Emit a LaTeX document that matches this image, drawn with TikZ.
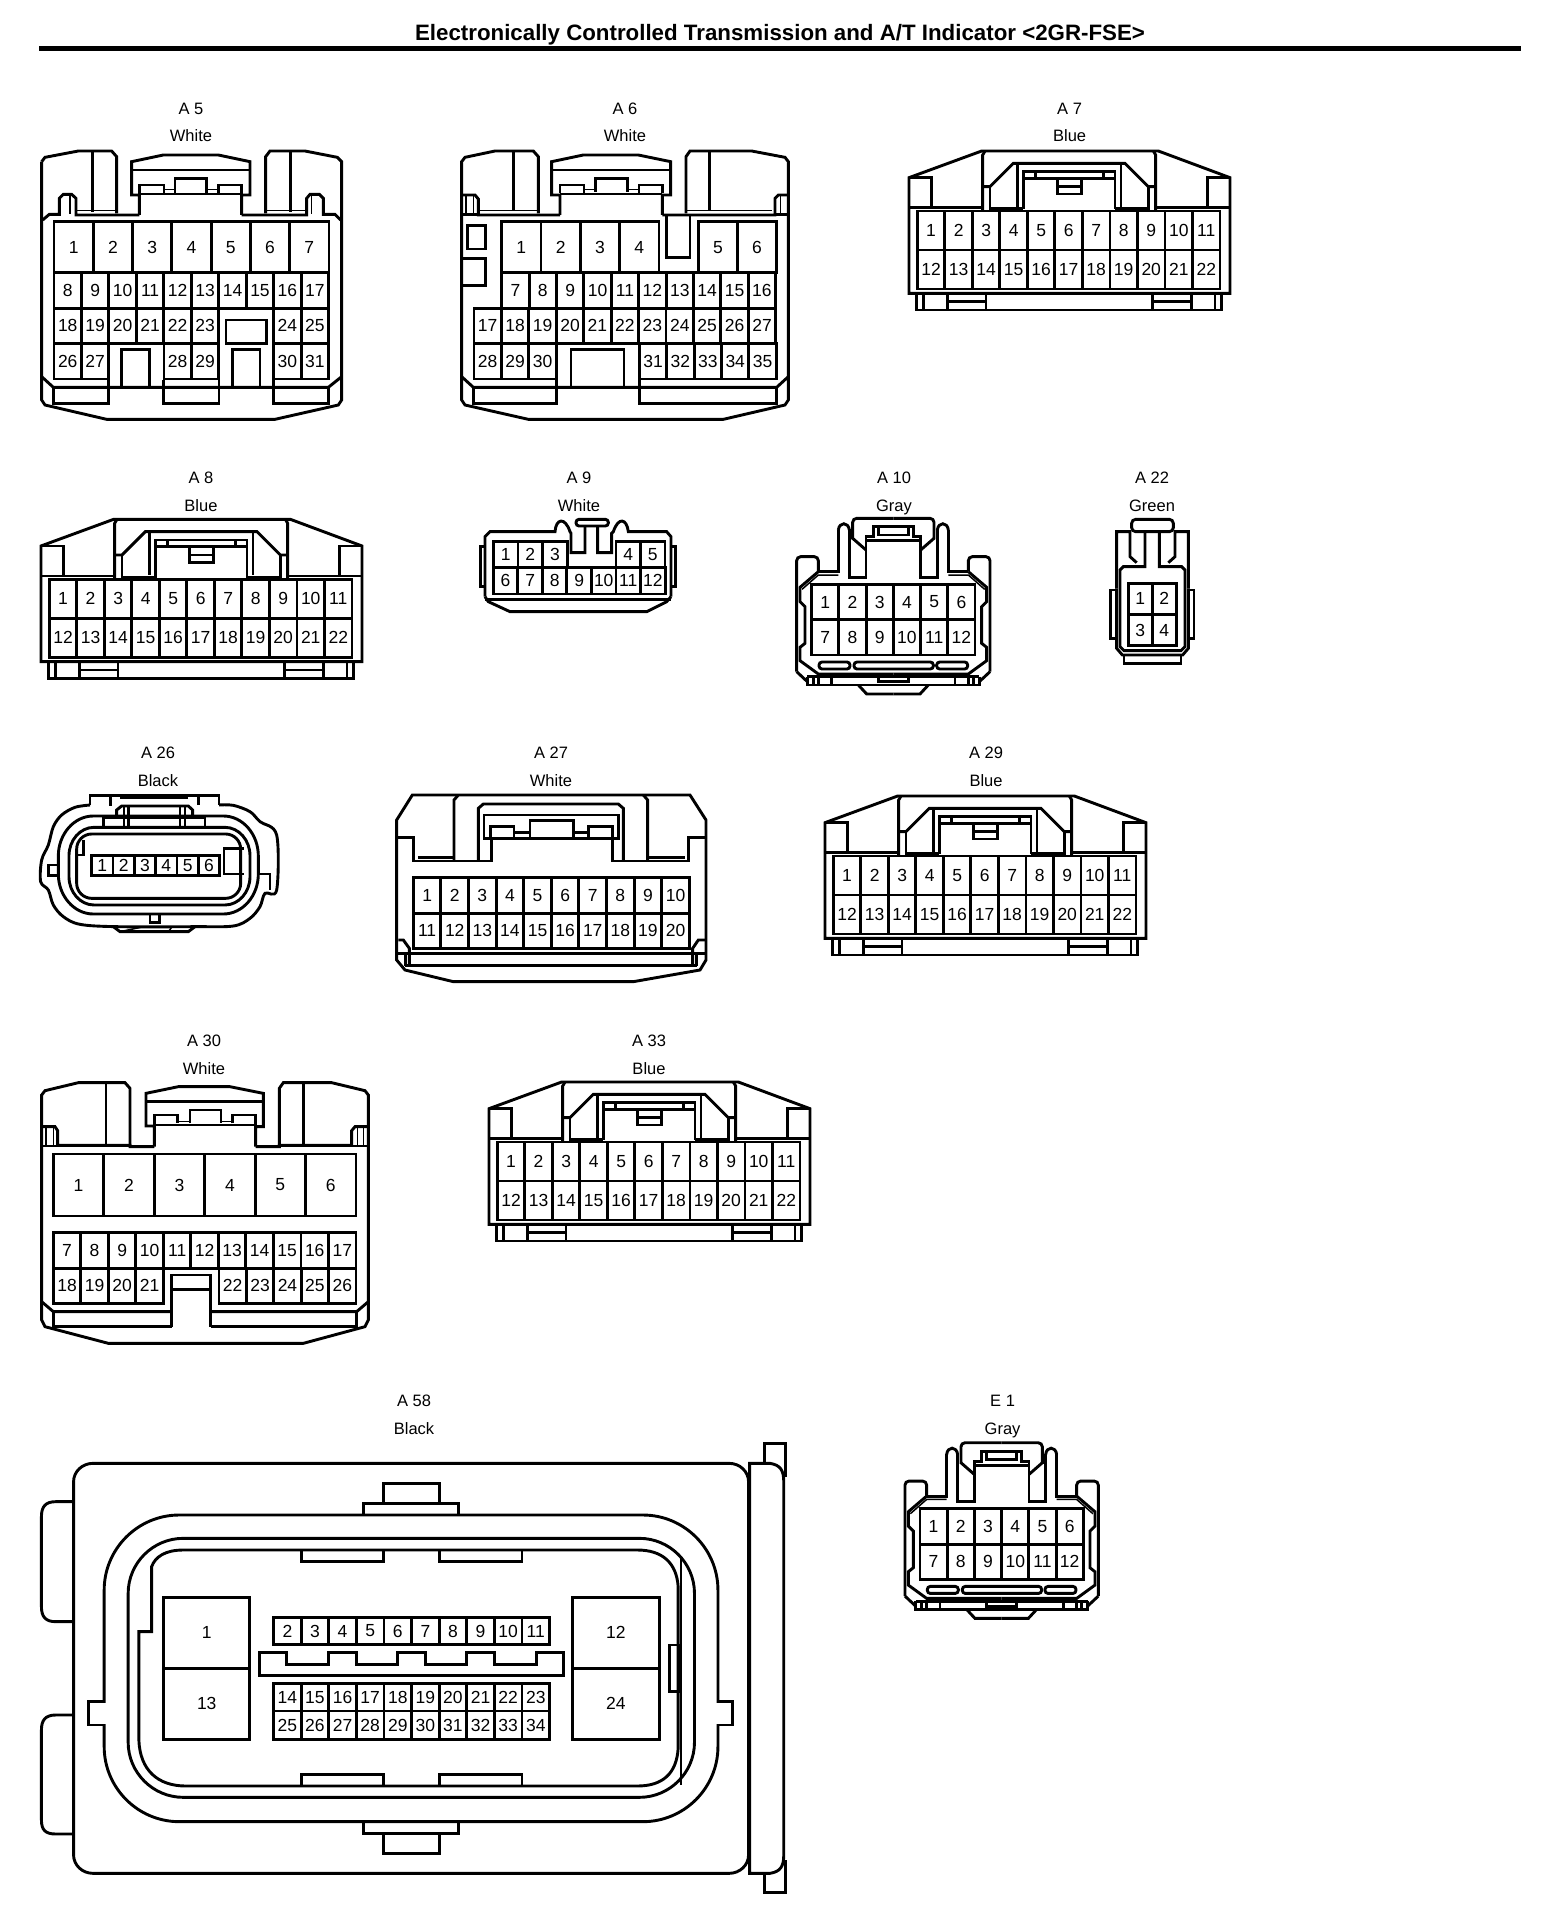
\documentclass[tikz,border=0pt]{standalone}
\usepackage{fontspec}
\setmainfont{Liberation Sans}
\tikzset{
  wire/.style={draw=black,line width=2.9pt,line join=miter},
  thinw/.style={draw=black,line width=1.5pt},
  pinlabel/.style={inner sep=0pt,font=\fontsize{17.5}{18}\selectfont,anchor=center},
  clab/.style={inner sep=0pt,font=\fontsize{16.5}{18}\selectfont,anchor=base},
  zm/.style n args={2}{xshift=#1pt,yshift=-#2pt,x=0.33333pt,y=-0.33333pt},
  zmw/.style n args={2}{xshift=#1pt,yshift=-#2pt,x=0.5102pt,y=-0.33333pt},
  soft/.style={rounded corners=4pt}
}
\newcommand\prow[5]{\foreach \lab [count=\ii from 0] in {#5} {%
  \pgfmathsetmacro\xa{#1+\ii*#2}\pgfmathsetmacro\xb{#1+(\ii+1)*#2}%
  \draw[wire] (\xa,#3) rectangle (\xb,#4);
  \node[pinlabel] (\cn-\lab) at ({(\xa+\xb)/2},{(#3+#4)/2}) {\lab};}}
\newcommand\clabel[5]{%
  \node[clab] (#1-id) at (#4pt,-#5pt-12pt) {#2};
  \node[clab] (#1-colour) at (#4pt,-#5pt-40pt) {#3};}
\newcommand\ringpath[7][wire]{%
 \draw[#1] ({#2+#6},#3) -- ({#4-#6},#3) .. controls ({#4-.45*#6},#3) and (#4,{#3+.45*#7}) .. (#4,{#3+#7})
  -- (#4,{#5-#7}) .. controls (#4,{#5-.45*#7}) and ({#4-.45*#6},#5) .. ({#4-#6},#5)
  -- ({#2+#6},#5) .. controls ({#2+.45*#6},#5) and (#2,{#5-.45*#7}) .. (#2,{#5-#7})
  -- (#2,{#3+#7}) .. controls (#2,{#3+.45*#7}) and ({#2+.45*#6},#3) .. ({#2+#6},#3) -- cycle;}
% ---- blue 22-pin connector (A7, A8, A29, A33)
\newcommand\connBlue[3]{\def\cn{#1}\begin{scope}[zm={#2}{#3}]
  \draw[wire] (57,490) -- (57,143) -- (275,63) -- (805,63) -- (1020,143) -- (1020,490) -- cycle;
  \draw[wire] (57,143) -- (125,143) -- (125,233);
  \draw[wire] (1020,143) -- (952,143) -- (952,233);
  \draw[wire] (57,233) -- (278,233);
  \draw[wire] (797,233) -- (1020,233);
  \draw[wire] (285,63) -- (278,75) -- (278,240);
  \draw[wire] (790,63) -- (797,75) -- (797,240);
  \draw[wire] (278,170) -- (300,170) -- (370,100) -- (705,100) -- (775,170) -- (797,170);
  \draw[wire] (300,170) -- (300,236) -- (400,236);
  \draw[wire] (775,170) -- (775,236) -- (675,236);
  \draw[wire] (382,100) -- (382,230);
  \draw[wire] (693,100) -- (693,230);
  \draw[wire] (400,238) -- (400,125) -- (675,125) -- (675,238);
  \draw[wire] (400,145) -- (675,145);
  \draw[wire] (437,125) -- (437,145);
  \draw[wire] (640,125) -- (640,145);
  \draw[wire] (503,145) -- (503,192) -- (575,192) -- (575,145);
  \draw[wire] (503,170) -- (575,170);
  \draw[wire] (80,490) -- (80,540) -- (995,540) -- (995,490);
  \draw[wire] (100,490) -- (100,540);
  \draw[wire] (975,490) -- (975,540);
  \draw[wire] (172,490) -- (172,540);
  \draw[wire] (288,490) -- (288,540);
  \draw[wire] (172,515) -- (288,515);
  \draw[wire] (788,490) -- (788,540);
  \draw[wire] (905,490) -- (905,540);
  \draw[wire] (788,515) -- (905,515);
  \prow{82}{82.55}{243}{360}{1,2,3,4,5,6,7,8,9,10,11}
  \prow{82}{82.55}{360}{477}{12,13,14,15,16,17,18,19,20,21,22}
\end{scope}}
% ---- half shell of the 12-pin connectors (A10, E1)
\newcommand\halfShell{%
  \draw[wire,soft] (218,118) -- (218,55) -- (340,55);
  \draw[wire] (218,115) -- (258,150);
  \draw[wire] (340,80) -- (280,80) -- (280,110) -- (258,110) -- (258,232) -- (208,232) -- (208,88);
  \draw[wire] (208,90) .. controls (205,65) and (178,65) .. (175,90);
  \draw[wire] (175,90) -- (175,215) -- (115,215);
  \draw[wire,soft] (115,215) -- (115,170) -- (50,170) -- (50,515);
  \draw[wire] (50,515) -- (82,545);
  \draw[thinw] (175,225) -- (115,225) -- (66,268);
  \draw[wire] (115,215) -- (60,262) -- (60,305) -- (75,320) -- (75,430) -- (60,442) -- (60,482) -- (115,522) -- (340,522);
  \draw[wire] (258,122) -- (340,122);
  \draw[wire] (295,84) -- (295,105) -- (340,105);
  \draw[wire] (82,530) -- (340,530);
  \draw[wire] (82,530) -- (82,555) -- (340,555);
  \draw[wire] (100,535) -- (100,555);
  \draw[wire] (115,535) -- (115,555);
  \draw[wire] (155,530) -- (155,555);
  \draw[wire] (295,532) -- (295,545) -- (340,545);
  \draw[wire] (235,555) -- (260,582) -- (340,582);
  \draw[wire,rounded corners=3pt] (117,486) rectangle (210,507);
}
\newcommand\connTwelve[3]{\def\cn{#1}\begin{scope}[zm={#2}{#3}]
  \halfShell
  \begin{scope}[xshift=226.667pt,xscale=-1]\halfShell\end{scope}
  \draw[wire,rounded corners=3pt] (222,486) rectangle (460,507);
  \prow{95}{81.67}{253}{359}{1,2,3,4,5,6}
  \prow{95}{81.67}{359}{465}{7,8,9,10,11,12}
\end{scope}}
\begin{document}
\begin{tikzpicture}[x=1pt,y=1pt]
\path[fill=white,use as bounding box] (0,0) rectangle (1568,-1908);
\node[inner sep=0pt,anchor=base,font=\bfseries\fontsize{22.3}{24}\selectfont] (title) at (780,-41) {Electronically Controlled Transmission and A/T Indicator <2GR-FSE>};
\coordinate (ruleL) at (39,-48.6);
\coordinate (ruleR) at (1521,-48.6);
\draw[line width=4.4pt] (ruleL) -- (ruleR);
\clabel{A5}{A 5}{White}{191}{102}
\clabel{A6}{A 6}{White}{625}{102}
\clabel{A7}{A 7}{Blue}{1069.6}{102}
\clabel{A8}{A 8}{Blue}{201}{471}
\clabel{A9}{A 9}{White}{579}{471}
\clabel{A10}{A 10}{Gray}{894}{471}
\clabel{A22}{A 22}{Green}{1152}{471}
\clabel{A26}{A 26}{Black}{158}{746}
\clabel{A27}{A 27}{White}{551}{746}
\clabel{A29}{A 29}{Blue}{986}{746}
\clabel{A30}{A 30}{White}{204}{1034}
\clabel{A33}{A 33}{Blue}{649}{1034}
\clabel{A58}{A 58}{Black}{414}{1394.5}
\clabel{E1}{E 1}{Gray}{1002.6}{1394.5}
% ---------- A5
\def\cn{A5}
\begin{scope}[zm={0}{80}]
  \draw[wire] (125,245) -- (135,232) -- (235,213) -- (335,213) -- (350,230) -- (350,400);
  \draw[wire] (278,213) -- (278,395);
  \draw[wire] (125,245) -- (125,960) -- (135,975) -- (320,1018) -- (825,1018) -- (1015,975) -- (1025,960) -- (1025,245) -- (1012,232) -- (915,213) -- (810,213) -- (797,230) -- (797,400);
  \draw[wire] (872,213) -- (872,395);
  \draw[wire] (418,405) -- (418,345) -- (395,345) -- (395,245) -- (490,225) -- (655,225) -- (750,245) -- (750,345) -- (725,345) -- (725,405);
  \draw[wire] (397,270) -- (750,270);
  \draw[wire] (418,345) -- (418,315) -- (492,315) -- (492,340);
  \draw[wire] (525,340) -- (525,295) -- (620,295) -- (620,340);
  \draw[wire] (655,340) -- (655,315) -- (725,315) -- (725,345);
  \draw[wire] (418,342) -- (725,342);
  \draw[thinw] (492,328) -- (525,328);
  \draw[thinw] (620,328) -- (655,328);
  \draw[wire] (128,420) -- (148,403) -- (178,403) -- (178,355) -- (190,343) -- (215,343) -- (228,355) -- (228,405) -- (418,405);
  \draw[thinw] (210,345) -- (210,403);
  \draw[thinw] (228,392) -- (350,392);
  \draw[wire] (725,405) -- (920,405) -- (920,355) -- (930,343) -- (958,343) -- (970,355) -- (970,403) -- (1005,403) -- (1022,420);
  \draw[thinw] (935,345) -- (935,403);
  \draw[thinw] (797,392) -- (920,392);
  \draw[wire] (125,890) -- (160,922) -- (985,922) -- (1025,890);
  \draw[wire] (160,922) -- (160,970) -- (325,970) -- (325,900);
  \draw[wire] (490,900) -- (490,970) -- (657,970) -- (657,900);
  \draw[wire] (820,900) -- (820,970) -- (985,970) -- (985,922);
  \prow{162}{117.86}{425}{578}{1,2,3,4,5,6,7}
  \prow{162}{82.4}{578}{685}{8,9,10,11,12,13,14,15,16,17}
  \prow{162}{82.4}{685}{790}{18,19,20,21,22,23}
  \prow{821}{82.4}{685}{790}{24,25}
  \prow{162}{82.4}{790}{897}{26,27}
  \prow{492}{82.4}{790}{897}{28,29}
  \prow{821}{82.4}{790}{897}{30,31}
  \draw[wire] (678,720) rectangle (800,790);
  \draw[wire] (365,922) -- (365,808) -- (448,808) -- (448,922);
  \draw[wire] (698,922) -- (698,808) -- (780,808) -- (780,922);
\end{scope}
% ---------- A6
\def\cn{A6}
\begin{scope}[zm={440}{80}]
  \draw[wire] (295,400) -- (295,230) -- (280,213) -- (165,213) -- (75,232) -- (65,245) -- (65,960) -- (75,975) -- (265,1018) -- (850,1018) -- (1035,975) -- (1045,960) -- (1045,245) -- (1035,232) -- (935,213) -- (750,213) -- (738,230) -- (738,400);
  \draw[wire] (220,213) -- (220,392);
  \draw[wire] (808,213) -- (808,392);
  \draw[wire] (360,405) -- (360,345) -- (335,345) -- (335,245) -- (430,225) -- (595,225) -- (692,245) -- (692,345) -- (667,345) -- (667,405);
  \draw[wire] (337,270) -- (692,270);
  \draw[wire] (360,340) -- (360,315) -- (432,315) -- (432,340);
  \draw[wire] (467,335) -- (467,295) -- (563,295) -- (563,335);
  \draw[wire] (597,340) -- (597,315) -- (667,315) -- (667,340);
  \draw[wire] (360,342) -- (667,342);
  \draw[thinw] (432,328) -- (467,328);
  \draw[thinw] (563,328) -- (597,328);
  \draw[wire] (65,345) -- (105,345) -- (115,357) -- (115,405) -- (360,405);
  \draw[thinw] (78,345) -- (78,403);
  \draw[thinw] (100,345) -- (100,403);
  \draw[wire] (65,403) -- (115,403);
  \draw[thinw] (115,392) -- (295,392);
  \draw[thinw] (738,392) -- (995,392);
  \draw[wire] (667,405) -- (1005,405) -- (1005,355) -- (1015,345) -- (1045,345);
  \draw[thinw] (1022,345) -- (1022,403);
  \draw[wire] (1005,403) -- (1045,403);
  \draw[wire] (680,405) -- (680,532) -- (750,532) -- (750,405);
  \draw[wire] (82,437) rectangle (137,507);
  \draw[wire] (65,535) -- (137,535) -- (137,617) -- (65,617);
  \prow{185}{118}{425}{578}{1,2,3,4}
  \prow{775}{117.5}{425}{578}{5,6}
  \prow{185}{82.2}{578}{685}{7,8,9,10,11,12,13,14,15,16}
  \prow{102}{82.3}{685}{790}{17,18,19,20,21,22,23,24,25,26,27}
  \prow{102}{82.3}{790}{897}{28,29,30}
  \prow{598}{82.2}{790}{897}{31,32,33,34,35}
  \draw[wire] (393,922) -- (393,808) -- (552,808) -- (552,922);
  \draw[wire] (65,890) -- (100,922) -- (1010,922) -- (1045,890);
  \draw[wire] (100,922) -- (100,970) -- (350,970) -- (350,900);
  \draw[wire] (598,900) -- (598,970) -- (1010,970) -- (1010,922);
\end{scope}
\connBlue{A7}{890}{130}
\connBlue{A8}{22}{498.3}
\connBlue{A29}{806}{775}
\connBlue{A33}{470}{1061}
% ---------- A9
\def\cn{A9}
\begin{scope}[zm={470}{500}]
  \draw[wire] (45,290) -- (45,110) -- (60,95) -- (255,95) .. controls (258,55) and (285,50) .. (300,95) -- (303,100) -- (303,158) -- (345,158) -- (345,78);
  \draw[wire] (383,78) -- (383,158) -- (425,158) -- (425,100) -- (430,95) .. controls (445,50) and (470,55) .. (475,95) -- (590,95) -- (603,110) -- (603,290);
  \draw[wire,rounded corners=3pt] (318,78) -- (318,58) -- (415,58) -- (415,78) -- cycle;
  \draw[wire] (45,298) -- (603,298);
  \draw[wire] (45,290) -- (55,305) -- (120,335) -- (530,335) -- (590,305) -- (603,290);
  \draw[wire] (45,140) -- (32,140) -- (32,260) -- (45,260);
  \draw[wire] (603,140) -- (616,140) -- (616,260) -- (603,260);
  \prow{70}{74}{125}{202}{1,2,3}
  \prow{438}{73.5}{125}{202}{4,5}
  \prow{70}{73.6}{202}{282}{6,7,8,9,10,11,12}
\end{scope}
\connTwelve{A10}{780}{500}
\connTwelve{E1}{888.3}{1424.4}
% ---------- A22
\def\cn{A22}
\begin{scope}[zm={880}{440}]
  \draw[wire,rounded corners=4pt] (755,238) rectangle (880,275);
  \draw[wire] (710,445) -- (710,275) -- (750,275) -- (750,350) -- (770,368);
  \draw[wire] (925,445) -- (925,275) -- (885,275) -- (885,350) -- (865,368);
  \draw[wire] (795,275) -- (795,380) -- (730,380) -- (720,390) -- (720,620) -- (732,632) -- (903,632) -- (915,620) -- (915,390) -- (905,380) -- (838,380) -- (838,275);
  \draw[wire] (710,445) -- (710,625) -- (727,645) -- (908,645) -- (925,625) -- (925,445);
  \draw[wire] (710,450) -- (692,450) -- (692,595) -- (710,595);
  \draw[wire] (925,450) -- (942,450) -- (942,595) -- (925,595);
  \draw[wire] (732,645) -- (732,670) -- (903,670) -- (903,645);
  \prow{745}{72}{430}{523}{1,2}
  \prow{745}{72}{523}{617}{3,4}
\end{scope}
% ---------- A26
\def\cn{A26}
\begin{scope}[zm={20}{730}]
  \draw[wire] plot[smooth,tension=.55] coordinates {(210,225) (165,232) (125,255) (100,290) (85,345) (65,390) (62,455) (85,480) (100,525) (130,560) (180,583) (290,590) (525,590) (640,588) (690,565) (720,530) (735,490) (770,480) (770,315) (720,275) (690,245) (640,226) (597,225)};
  \draw[wire] (210,225) -- (210,197) -- (597,197) -- (597,225);
  \draw[line width=3.6pt] (300,202) -- (505,202);
  \draw[wire] (272,197) -- (272,228);
  \draw[wire] (535,197) -- (535,225);
  \ringpath{115}{258}{715}{552}{105}{120}
  \ringpath{147}{292}{690}{525}{75}{85}
  \ringpath{170}{312}{662}{505}{45}{45}
  \draw[wire] (172,375) -- (190,375) -- (190,330);
  \draw[wire] (672,432) -- (612,432) -- (612,355) -- (672,355);
  \draw[wire] (290,258) -- (290,240) -- (305,228) -- (505,228) -- (518,240) -- (518,258);
  \draw[wire] (250,290) -- (250,262) -- (555,262) -- (555,290);
  \draw[wire] (312,232) -- (312,290);
  \draw[wire] (326,232) -- (326,290);
  \draw[wire] (480,232) -- (480,290);
  \draw[wire] (495,232) -- (495,290);
  \draw[wire] (390,552) -- (390,578) -- (418,578) -- (418,552);
  \draw[wire] (280,590) -- (300,605) -- (505,605) -- (525,590);
  \draw[thinw] (300,605) -- (362,592);
  \draw[thinw] (445,605) -- (455,592);
  \draw[wire] (85,405) rectangle (115,437);
  \draw[wire] (715,432) -- (750,432) -- (750,480);
  \prow{215}{64}{377}{437}{1,2,3,4,5,6}
\end{scope}
% ---------- A27
\def\cn{A27}
\begin{scope}[zm={380}{780}]
  \draw[wire] (50,120) -- (97,45) -- (930,45) -- (978,120) -- (978,540) -- (960,570) -- (760,605) -- (220,605) -- (75,570) -- (50,540) -- cycle;
  \draw[wire] (235,45) -- (222,60) -- (222,240);
  \draw[wire] (790,45) -- (803,60) -- (803,240);
  \draw[wire] (50,172) -- (100,172) -- (100,243) -- (335,243) -- (335,175);
  \draw[wire] (978,172) -- (925,172) -- (925,243) -- (697,243) -- (697,175);
  \draw[wire] (115,232) -- (222,232);
  \draw[wire] (803,232) -- (915,232);
  \draw[wire] (295,240) -- (295,85) -- (310,72) -- (715,72) -- (730,85) -- (730,240);
  \draw[wire] (312,175) -- (312,105) -- (715,105) -- (715,175) -- cycle;
  \draw[wire] (332,175) -- (332,140) -- (402,140) -- (402,172);
  \draw[wire] (450,172) -- (450,122) -- (580,122) -- (580,172);
  \draw[wire] (625,172) -- (625,140) -- (697,140) -- (697,175);
  \draw[wire] (402,157) -- (450,157);
  \draw[wire] (580,157) -- (625,157);
  \prow{100}{82.8}{293}{400}{1,2,3,4,5,6,7,8,9,10}
  \prow{100}{82.8}{400}{505}{11,12,13,14,15,16,17,18,19,20}
  \draw[wire] (55,480) -- (70,480) -- (88,505) -- (88,555);
  \draw[wire] (975,480) -- (955,480) -- (938,505) -- (938,555);
  \draw[wire] (76,520) -- (76,557);
  \draw[wire] (950,520) -- (950,557);
  \draw[wire] (52,520) -- (976,520);
  \draw[wire] (76,557) -- (950,557);
\end{scope}
% ---------- A30
\def\cn{A30}
\begin{scope}[zm={20}{1060}]
  \draw[wire] (330,255) -- (330,85) -- (315,68) -- (175,68) -- (75,92) -- (65,105) -- (65,780) -- (75,800) -- (265,850) -- (850,850) -- (1035,800) -- (1045,780) -- (1045,105) -- (1035,92) -- (935,68) -- (790,68) -- (778,85) -- (778,255);
  \draw[wire] (258,68) -- (258,255);
  \draw[wire] (850,68) -- (850,255);
  \draw[wire] (403,260) -- (403,198) -- (378,198) -- (378,100) -- (475,80) -- (630,80) -- (730,100) -- (730,200) -- (707,200) -- (707,260);
  \draw[wire] (378,125) -- (730,125);
  \draw[wire] (403,195) -- (403,165) -- (472,165) -- (472,190);
  \draw[wire] (510,190) -- (510,150) -- (603,150) -- (603,190);
  \draw[wire] (637,190) -- (637,165) -- (707,165) -- (707,195);
  \draw[wire] (403,195) -- (707,195);
  \draw[thinw] (472,185) -- (510,185);
  \draw[thinw] (603,185) -- (637,185);
  \draw[wire] (65,200) -- (105,200) -- (113,212) -- (113,256) -- (330,256) -- (330,260) -- (403,260);
  \draw[thinw] (78,200) -- (78,258);
  \draw[thinw] (100,200) -- (100,258);
  \draw[wire] (65,258) -- (113,258);
  \draw[wire] (1045,200) -- (1005,200) -- (995,212) -- (995,256) -- (778,256) -- (778,260) -- (707,260);
  \draw[thinw] (1030,200) -- (1030,258);
  \draw[thinw] (1012,200) -- (1012,258);
  \draw[wire] (995,258) -- (1045,258);
  \prow{100}{151.33}{282}{468}{1,2,3,4,5,6}
  \prow{100}{82.55}{518}{625}{7,8,9,10,11,12,13,14,15,16,17}
  \prow{100}{82.55}{625}{730}{18,19,20,21}
  \prow{597}{82.2}{625}{730}{22,23,24,25,26}
  \draw[wire] (455,800) -- (455,645) -- (572,645) -- (572,800);
  \draw[wire] (455,688) -- (572,688);
  \draw[wire] (65,725) -- (100,755) -- (455,755);
  \draw[wire] (572,755) -- (1010,755) -- (1045,725);
  \draw[wire] (100,755) -- (100,800) -- (455,800);
  \draw[wire] (572,800) -- (1010,800) -- (1010,755);
\end{scope}
% ---------- A58
\def\cn{A58}
\begin{scope}[zmw={20}{1420}]
  \ringpath{105}{130}{1428}{1360}{38}{55}
  \draw[wire] (105,245) -- (70,245) .. controls (50,245) and (42,260) .. (42,290) -- (42,560) .. controls (42,590) and (50,605) .. (70,605) -- (105,605);
  \draw[wire] (105,885) -- (70,885) .. controls (50,885) and (42,900) .. (42,930) -- (42,1200) .. controls (42,1230) and (50,1242) .. (70,1242) -- (105,1242);
  \draw[wire] (1430,130) -- (1470,130) .. controls (1490,135) and (1497,150) .. (1497,185) -- (1497,1305) .. controls (1497,1340) and (1490,1355) .. (1470,1360) -- (1430,1360) -- cycle;
  \draw[wire] (1460,130) -- (1460,70) -- (1500,70) -- (1500,170);
  \draw[wire] (1460,1360) -- (1460,1418) -- (1500,1418) -- (1500,1320);
  \draw[wire] (713,250) -- (713,190) -- (822,190) -- (822,250);
  \draw[wire] (673,285) -- (673,250) -- (860,250) -- (860,285);
  \draw[wire] (673,1205) -- (673,1240) -- (860,1240) -- (860,1205);
  \draw[wire] (713,1240) -- (713,1300) -- (822,1300) -- (822,1240);
  \ringpath{165}{285}{1368}{1205}{147}{225}
  \fill[white] (155,849) rectangle (175,911);
  \fill[white] (1358,849) rectangle (1378,911);
  \draw[wire] (165,845) -- (135,845) -- (135,915) -- (165,915);
  \draw[wire] (1368,845) -- (1397,845) -- (1397,915) -- (1368,915);
  \ringpath{212}{355}{1322}{1132}{108}{165}
  \draw[wire] (258,635) -- (258,440) .. controls (265,410) and (285,390) .. (320,390) -- (1210,390) .. controls (1260,390) and (1287,430) .. (1290,500) -- (1290,985) .. controls (1287,1060) and (1260,1098) .. (1210,1098) -- (325,1098) .. controls (270,1098) and (235,1050) .. (233,960) -- (233,635) -- cycle;
  \draw[thinw] (1296,410) -- (1296,1095);
  \draw[wire] (1273,675) rectangle (1292,815);
  \draw[wire] (552,390) -- (552,425) -- (713,425) -- (713,390);
  \draw[wire] (822,390) -- (822,425) -- (984,425) -- (984,390);
  \draw[wire] (552,1098) -- (552,1063) -- (713,1063) -- (713,1098);
  \draw[wire] (822,1098) -- (822,1063) -- (984,1063) -- (984,1098);
  \prow{282}{168}{532}{745}{1}
  \prow{282}{168}{745}{958}{13}
  \prow{1083}{170}{532}{745}{12}
  \prow{1083}{170}{745}{958}{24}
  \prow{497}{54.1}{592}{674}{2,3,4,5,6,7,8,9,10,11}
  \prow{497}{54.1}{790}{873}{14,15,16,17,18,19,20,21,22,23}
  \prow{497}{54.1}{873}{958}{25,26,27,28,29,30,31,32,33,34}
  \draw[wire] (469,697) -- (523,697) -- (523,733) -- (605,733) -- (605,697) -- (660,697) -- (660,733) -- (740,733) -- (740,697) -- (795,697) -- (795,733) -- (875,733) -- (875,697) -- (930,697) -- (930,733) -- (1012,733) -- (1012,697) -- (1065,697) -- (1065,767) -- (469,767) -- cycle;
\end{scope}
\end{tikzpicture}
\end{document}
